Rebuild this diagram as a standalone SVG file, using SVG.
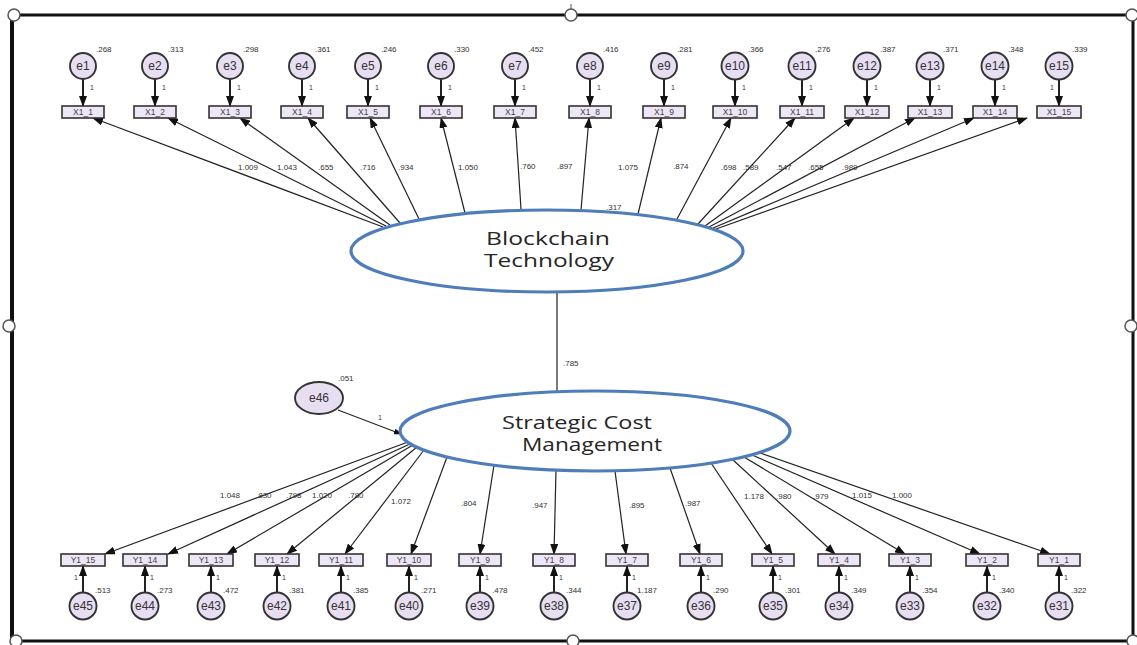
<svg xmlns="http://www.w3.org/2000/svg" width="1137" height="645" viewBox="0 0 1137 645">
<defs>
<marker id="ah" markerUnits="userSpaceOnUse" markerWidth="11" markerHeight="8" refX="10" refY="4" orient="auto"><path d="M0,0 L11,4 L0,8 z" fill="#111"/></marker>
<marker id="ahs" markerUnits="userSpaceOnUse" markerWidth="8" markerHeight="6" refX="7" refY="3" orient="auto"><path d="M0,0 L8,3 L0,6 z" fill="#111"/></marker>
<style>
.fr{stroke:#111;stroke-width:3;fill:none}
.hd{fill:#fff;stroke:#555;stroke-width:1.5}
.er{fill:#E8DEF2;stroke:#333;stroke-width:1.9}
.bx{fill:#EEE6F6;stroke:#333;stroke-width:1.6}
.lv{fill:#fff;stroke:#4F7DBA;stroke-width:3.2}
.c{stroke:#222;stroke-width:1.2;fill:none;marker-end:url(#ah)}
.c2{stroke:#222;stroke-width:2;fill:none;marker-end:url(#ah)}
.et{font-family:"Liberation Sans",Arial,sans-serif;font-size:12px;fill:#333;text-anchor:middle}
.bt{font-family:"Liberation Sans",Arial,sans-serif;font-size:8.5px;fill:#444;text-anchor:middle}
.n{font-family:"Liberation Sans",Arial,sans-serif;font-size:8px;fill:#333}
.one{font-family:"Liberation Sans",Arial,sans-serif;font-size:7px;fill:#333}
.lt{font-family:"Open Sans",Lato,sans-serif;font-size:18px;fill:#262626;text-anchor:middle}
</style>
</defs>
<g id="frame">
<line class="fr" x1="14" y1="15" x2="1133" y2="15"/>
<line class="fr" x1="12" y1="15" x2="12" y2="641" style="stroke-width:4"/>
<line class="fr" x1="1133" y1="15" x2="1133" y2="641"/>
<line class="fr" x1="14" y1="641" x2="1133" y2="641"/>
<line x1="571" y1="4" x2="571" y2="10" stroke="#555" stroke-width="1"/>
<circle class="hd" cx="14" cy="15" r="6"/>
<circle class="hd" cx="571" cy="15" r="6"/>
<circle class="hd" cx="1132" cy="15" r="6"/>
<circle class="hd" cx="9" cy="326" r="6"/>
<circle class="hd" cx="1131" cy="326" r="6"/>
<circle class="hd" cx="16" cy="641" r="6"/>
<circle class="hd" cx="573" cy="641" r="6"/>
<circle class="hd" cx="1133" cy="641" r="6"/>
</g>
<g id="connectors">
<line class="c" x1="383" y1="227" x2="93" y2="118"/>
<line class="c" x1="386" y1="226" x2="168" y2="118"/>
<line class="c" x1="390" y1="225" x2="240" y2="118"/>
<line class="c" x1="400" y1="223" x2="308" y2="118"/>
<line class="c" x1="419" y1="219" x2="370" y2="118"/>
<line class="c" x1="465" y1="213" x2="441" y2="118"/>
<line class="c" x1="521" y1="209" x2="515" y2="118"/>
<line class="c" x1="581" y1="210" x2="589" y2="118"/>
<line class="c" x1="638" y1="214" x2="661" y2="118"/>
<line class="c" x1="677" y1="219" x2="731" y2="118"/>
<line class="c" x1="698" y1="224" x2="795" y2="118"/>
<line class="c" x1="705" y1="226" x2="854" y2="118"/>
<line class="c" x1="709" y1="227" x2="915" y2="118"/>
<line class="c" x1="713" y1="228" x2="974" y2="118"/>
<line class="c" x1="716" y1="229" x2="1027" y2="118"/>
<line class="c2" x1="83" y1="79" x2="83" y2="106"/>
<line class="c2" x1="155" y1="79" x2="155" y2="106"/>
<line class="c2" x1="230" y1="79" x2="230" y2="106"/>
<line class="c2" x1="302" y1="79" x2="302" y2="106"/>
<line class="c2" x1="368" y1="79" x2="368" y2="106"/>
<line class="c2" x1="441" y1="79" x2="441" y2="106"/>
<line class="c2" x1="515" y1="79" x2="515" y2="106"/>
<line class="c2" x1="590" y1="79" x2="590" y2="106"/>
<line class="c2" x1="664" y1="79" x2="664" y2="106"/>
<line class="c2" x1="735" y1="79" x2="735" y2="106"/>
<line class="c2" x1="802" y1="79" x2="802" y2="106"/>
<line class="c2" x1="867" y1="79" x2="867" y2="106"/>
<line class="c2" x1="930" y1="79" x2="930" y2="106"/>
<line class="c2" x1="995" y1="79" x2="995" y2="106"/>
<line class="c2" x1="1059" y1="79" x2="1059" y2="106"/>
<line x1="557" y1="291" x2="557" y2="392" stroke="#222" stroke-width="1.2"/>
<line class="c" x1="338" y1="410" x2="401" y2="434" style="marker-end:url(#ahs)"/>
<line class="c" x1="408" y1="442" x2="105" y2="554"/>
<line class="c" x1="410" y1="444" x2="168" y2="554"/>
<line class="c" x1="413" y1="445" x2="227" y2="554"/>
<line class="c" x1="417" y1="447" x2="287" y2="554"/>
<line class="c" x1="424" y1="450" x2="345" y2="554"/>
<line class="c" x1="447" y1="457" x2="411" y2="554"/>
<line class="c" x1="494" y1="465" x2="480" y2="554"/>
<line class="c" x1="556" y1="470" x2="554" y2="554"/>
<line class="c" x1="615" y1="471" x2="626" y2="554"/>
<line class="c" x1="670" y1="468" x2="700" y2="554"/>
<line class="c" x1="711" y1="463" x2="772" y2="554"/>
<line class="c" x1="732" y1="459" x2="835" y2="554"/>
<line class="c" x1="744" y1="457" x2="905" y2="554"/>
<line class="c" x1="752" y1="455" x2="980" y2="554"/>
<line class="c" x1="760" y1="453" x2="1050" y2="554"/>
<line class="c2" x1="83" y1="593" x2="83" y2="566"/>
<line class="c2" x1="145" y1="593" x2="145" y2="566"/>
<line class="c2" x1="211" y1="593" x2="211" y2="566"/>
<line class="c2" x1="277" y1="593" x2="277" y2="566"/>
<line class="c2" x1="341" y1="593" x2="341" y2="566"/>
<line class="c2" x1="409" y1="593" x2="409" y2="566"/>
<line class="c2" x1="480" y1="593" x2="480" y2="566"/>
<line class="c2" x1="554" y1="593" x2="554" y2="566"/>
<line class="c2" x1="627" y1="593" x2="627" y2="566"/>
<line class="c2" x1="701" y1="593" x2="701" y2="566"/>
<line class="c2" x1="773" y1="593" x2="773" y2="566"/>
<line class="c2" x1="839" y1="593" x2="839" y2="566"/>
<line class="c2" x1="910" y1="593" x2="910" y2="566"/>
<line class="c2" x1="987" y1="593" x2="987" y2="566"/>
<line class="c2" x1="1059" y1="593" x2="1059" y2="566"/>
</g>
<g id="path-labels" class="n">
<text x="238" y="170">1.009</text><text x="277" y="170">1.043</text><text x="318" y="170">.655</text>
<text x="360" y="170">.716</text><text x="398" y="170">.934</text><text x="458" y="170">1.050</text>
<text x="520" y="169">.760</text><text x="557" y="169">.897</text><text x="618" y="170">1.075</text>
<text x="673" y="169">.874</text><text x="721" y="170">.698</text><text x="743" y="170">.589</text>
<text x="776" y="170">.547</text><text x="808" y="170">.655</text><text x="842" y="170">.989</text>
<text x="606" y="210">.317</text>
<text x="563" y="366">.785</text>
<text x="338" y="381">.051</text>
<text class="one" x="378" y="420">1</text>
<text x="220" y="498">1.048</text><text x="256" y="498">.830</text><text x="286" y="498">.798</text>
<text x="312" y="498">1.020</text><text x="348" y="498">.780</text><text x="391" y="504">1.072</text>
<text x="461" y="506">.804</text><text x="532" y="508">.947</text><text x="629" y="508">.895</text>
<text x="685" y="506">.987</text><text x="744" y="499">1.178</text><text x="776" y="499">.980</text>
<text x="813" y="499">.979</text><text x="852" y="498">1.015</text><text x="892" y="498">1.000</text>
</g>
<g id="bt">
<ellipse class="lv" cx="547" cy="251" rx="196" ry="41"/>
<text class="lt" x="548" y="245" textLength="124" lengthAdjust="spacingAndGlyphs">Blockchain</text>
<text class="lt" x="549" y="267" textLength="130" lengthAdjust="spacingAndGlyphs">Technology</text>
</g>
<g id="scm">
<ellipse class="lv" cx="595" cy="431" rx="195" ry="40"/>
<text class="lt" x="577" y="429" textLength="150" lengthAdjust="spacingAndGlyphs">Strategic Cost</text>
<text class="lt" x="592" y="451" textLength="140" lengthAdjust="spacingAndGlyphs">Management</text>
</g>
<g id="e46"><ellipse class="er" cx="319" cy="398" rx="24" ry="16"/><text class="et" x="319" y="402">e46</text></g>
<g id="top-errors">
<g id="e1"><circle class="er" cx="83" cy="66" r="13"/><text class="et" x="83" y="70">e1</text><text class="n" x="96" y="52">.268</text><text class="one" x="90" y="90">1</text></g>
<g id="e2"><circle class="er" cx="155" cy="66" r="13"/><text class="et" x="155" y="70">e2</text><text class="n" x="168" y="52">.313</text><text class="one" x="162" y="90">1</text></g>
<g id="e3"><circle class="er" cx="230" cy="66" r="13"/><text class="et" x="230" y="70">e3</text><text class="n" x="243" y="52">.298</text><text class="one" x="237" y="90">1</text></g>
<g id="e4"><circle class="er" cx="302" cy="66" r="13"/><text class="et" x="302" y="70">e4</text><text class="n" x="315" y="52">.361</text><text class="one" x="309" y="90">1</text></g>
<g id="e5"><circle class="er" cx="368" cy="66" r="13"/><text class="et" x="368" y="70">e5</text><text class="n" x="381" y="52">.246</text><text class="one" x="375" y="90">1</text></g>
<g id="e6"><circle class="er" cx="441" cy="66" r="13"/><text class="et" x="441" y="70">e6</text><text class="n" x="454" y="52">.330</text><text class="one" x="448" y="90">1</text></g>
<g id="e7"><circle class="er" cx="515" cy="66" r="13"/><text class="et" x="515" y="70">e7</text><text class="n" x="528" y="52">.452</text><text class="one" x="522" y="90">1</text></g>
<g id="e8"><circle class="er" cx="590" cy="66" r="13"/><text class="et" x="590" y="70">e8</text><text class="n" x="603" y="52">.416</text><text class="one" x="597" y="90">1</text></g>
<g id="e9"><circle class="er" cx="664" cy="66" r="13"/><text class="et" x="664" y="70">e9</text><text class="n" x="677" y="52">.281</text><text class="one" x="671" y="90">1</text></g>
<g id="e10"><circle class="er" cx="735" cy="66" r="13.5"/><text class="et" x="735" y="70">e10</text><text class="n" x="748" y="52">.366</text><text class="one" x="742" y="90">1</text></g>
<g id="e11"><circle class="er" cx="802" cy="66" r="13.5"/><text class="et" x="802" y="70">e11</text><text class="n" x="815" y="52">.276</text><text class="one" x="809" y="90">1</text></g>
<g id="e12"><circle class="er" cx="867" cy="66" r="13.5"/><text class="et" x="867" y="70">e12</text><text class="n" x="880" y="52">.387</text><text class="one" x="874" y="90">1</text></g>
<g id="e13"><circle class="er" cx="930" cy="66" r="13.5"/><text class="et" x="930" y="70">e13</text><text class="n" x="943" y="52">.371</text><text class="one" x="937" y="90">1</text></g>
<g id="e14"><circle class="er" cx="995" cy="66" r="13.5"/><text class="et" x="995" y="70">e14</text><text class="n" x="1008" y="52">.348</text><text class="one" x="1002" y="90">1</text></g>
<g id="e15"><circle class="er" cx="1059" cy="66" r="13.5"/><text class="et" x="1059" y="70">e15</text><text class="n" x="1072" y="52">.339</text><text class="one" x="1050" y="90">1</text></g>
</g>
<g id="x-items">
<g id="X1_1"><rect class="bx" x="62" y="106" width="42" height="12"/><text class="bt" x="83" y="115">X1_1</text></g>
<g id="X1_2"><rect class="bx" x="134" y="106" width="42" height="12"/><text class="bt" x="155" y="115">X1_2</text></g>
<g id="X1_3"><rect class="bx" x="209" y="106" width="42" height="12"/><text class="bt" x="230" y="115">X1_3</text></g>
<g id="X1_4"><rect class="bx" x="281" y="106" width="42" height="12"/><text class="bt" x="302" y="115">X1_4</text></g>
<g id="X1_5"><rect class="bx" x="347" y="106" width="42" height="12"/><text class="bt" x="368" y="115">X1_5</text></g>
<g id="X1_6"><rect class="bx" x="420" y="106" width="42" height="12"/><text class="bt" x="441" y="115">X1_6</text></g>
<g id="X1_7"><rect class="bx" x="494" y="106" width="42" height="12"/><text class="bt" x="515" y="115">X1_7</text></g>
<g id="X1_8"><rect class="bx" x="569" y="106" width="42" height="12"/><text class="bt" x="590" y="115">X1_8</text></g>
<g id="X1_9"><rect class="bx" x="643" y="106" width="42" height="12"/><text class="bt" x="664" y="115">X1_9</text></g>
<g id="X1_10"><rect class="bx" x="713" y="106" width="44" height="12"/><text class="bt" x="735" y="115">X1_10</text></g>
<g id="X1_11"><rect class="bx" x="780" y="106" width="44" height="12"/><text class="bt" x="802" y="115">X1_11</text></g>
<g id="X1_12"><rect class="bx" x="845" y="106" width="44" height="12"/><text class="bt" x="867" y="115">X1_12</text></g>
<g id="X1_13"><rect class="bx" x="908" y="106" width="44" height="12"/><text class="bt" x="930" y="115">X1_13</text></g>
<g id="X1_14"><rect class="bx" x="973" y="106" width="44" height="12"/><text class="bt" x="995" y="115">X1_14</text></g>
<g id="X1_15"><rect class="bx" x="1037" y="106" width="44" height="12"/><text class="bt" x="1059" y="115">X1_15</text></g>
</g>
<g id="y-items">
<g id="Y1_15"><rect class="bx" x="61" y="554" width="44" height="12"/><text class="bt" x="83" y="563">Y1_15</text></g>
<g id="Y1_14"><rect class="bx" x="123" y="554" width="44" height="12"/><text class="bt" x="145" y="563">Y1_14</text></g>
<g id="Y1_13"><rect class="bx" x="189" y="554" width="44" height="12"/><text class="bt" x="211" y="563">Y1_13</text></g>
<g id="Y1_12"><rect class="bx" x="255" y="554" width="44" height="12"/><text class="bt" x="277" y="563">Y1_12</text></g>
<g id="Y1_11"><rect class="bx" x="319" y="554" width="44" height="12"/><text class="bt" x="341" y="563">Y1_11</text></g>
<g id="Y1_10"><rect class="bx" x="387" y="554" width="44" height="12"/><text class="bt" x="409" y="563">Y1_10</text></g>
<g id="Y1_9"><rect class="bx" x="459" y="554" width="42" height="12"/><text class="bt" x="480" y="563">Y1_9</text></g>
<g id="Y1_8"><rect class="bx" x="533" y="554" width="42" height="12"/><text class="bt" x="554" y="563">Y1_8</text></g>
<g id="Y1_7"><rect class="bx" x="606" y="554" width="42" height="12"/><text class="bt" x="627" y="563">Y1_7</text></g>
<g id="Y1_6"><rect class="bx" x="680" y="554" width="42" height="12"/><text class="bt" x="701" y="563">Y1_6</text></g>
<g id="Y1_5"><rect class="bx" x="752" y="554" width="42" height="12"/><text class="bt" x="773" y="563">Y1_5</text></g>
<g id="Y1_4"><rect class="bx" x="818" y="554" width="42" height="12"/><text class="bt" x="839" y="563">Y1_4</text></g>
<g id="Y1_3"><rect class="bx" x="889" y="554" width="42" height="12"/><text class="bt" x="910" y="563">Y1_3</text></g>
<g id="Y1_2"><rect class="bx" x="966" y="554" width="42" height="12"/><text class="bt" x="987" y="563">Y1_2</text></g>
<g id="Y1_1"><rect class="bx" x="1038" y="554" width="42" height="12"/><text class="bt" x="1059" y="563">Y1_1</text></g>
</g>
<g id="bottom-errors">
<g id="e45"><circle class="er" cx="83" cy="606" r="13.5"/><text class="et" x="83" y="610">e45</text><text class="n" x="95" y="593">.513</text><text class="one" x="74" y="580">1</text></g>
<g id="e44"><circle class="er" cx="145" cy="606" r="13.5"/><text class="et" x="145" y="610">e44</text><text class="n" x="157" y="593">.273</text><text class="one" x="150" y="580">1</text></g>
<g id="e43"><circle class="er" cx="211" cy="606" r="13.5"/><text class="et" x="211" y="610">e43</text><text class="n" x="223" y="593">.472</text><text class="one" x="216" y="580">1</text></g>
<g id="e42"><circle class="er" cx="277" cy="606" r="13.5"/><text class="et" x="277" y="610">e42</text><text class="n" x="289" y="593">.381</text><text class="one" x="282" y="580">1</text></g>
<g id="e41"><circle class="er" cx="341" cy="606" r="13.5"/><text class="et" x="341" y="610">e41</text><text class="n" x="353" y="593">.385</text><text class="one" x="346" y="580">1</text></g>
<g id="e40"><circle class="er" cx="409" cy="606" r="13.5"/><text class="et" x="409" y="610">e40</text><text class="n" x="421" y="593">.271</text><text class="one" x="414" y="580">1</text></g>
<g id="e39"><circle class="er" cx="480" cy="606" r="13.5"/><text class="et" x="480" y="610">e39</text><text class="n" x="492" y="593">.478</text><text class="one" x="485" y="580">1</text></g>
<g id="e38"><circle class="er" cx="554" cy="606" r="13.5"/><text class="et" x="554" y="610">e38</text><text class="n" x="566" y="593">.344</text><text class="one" x="559" y="580">1</text></g>
<g id="e37"><circle class="er" cx="627" cy="606" r="13.5"/><text class="et" x="627" y="610">e37</text><text class="n" x="637" y="593">1.187</text><text class="one" x="632" y="580">1</text></g>
<g id="e36"><circle class="er" cx="701" cy="606" r="13.5"/><text class="et" x="701" y="610">e36</text><text class="n" x="713" y="593">.290</text><text class="one" x="706" y="580">1</text></g>
<g id="e35"><circle class="er" cx="773" cy="606" r="13.5"/><text class="et" x="773" y="610">e35</text><text class="n" x="785" y="593">.301</text><text class="one" x="778" y="580">1</text></g>
<g id="e34"><circle class="er" cx="839" cy="606" r="13.5"/><text class="et" x="839" y="610">e34</text><text class="n" x="851" y="593">.349</text><text class="one" x="844" y="580">1</text></g>
<g id="e33"><circle class="er" cx="910" cy="606" r="13.5"/><text class="et" x="910" y="610">e33</text><text class="n" x="922" y="593">.354</text><text class="one" x="915" y="580">1</text></g>
<g id="e32"><circle class="er" cx="987" cy="606" r="13.5"/><text class="et" x="987" y="610">e32</text><text class="n" x="999" y="593">.340</text><text class="one" x="992" y="580">1</text></g>
<g id="e31"><circle class="er" cx="1059" cy="606" r="13.5"/><text class="et" x="1059" y="610">e31</text><text class="n" x="1071" y="593">.322</text><text class="one" x="1064" y="580">1</text></g>
</g>
</svg>
